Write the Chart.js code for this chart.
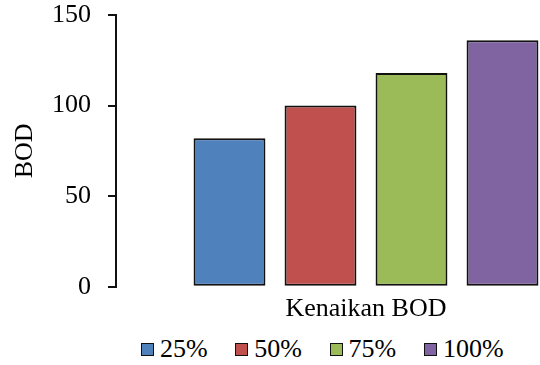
<!DOCTYPE html>
<html>
<head>
<meta charset="utf-8">
<script src="https://cdn.jsdelivr.net/npm/chart.js@4/dist/chart.umd.min.js"></script>
<style>
  html, body { margin: 0; padding: 0; background: #fff; }
  #wrap { position: relative; width: 540px; height: 365px; overflow: hidden; }
  #bodChart { position: absolute; left: 0; top: 0; }
  #legend {
    position: absolute; left: 141px; top: 334px;
    display: flex; align-items: center;
    font-family: "Liberation Serif", serif; font-size: 26px; color: #000;
    white-space: nowrap;
  }
  .item { display: flex; align-items: center; width: 94.3px; }
  .box { width: 11px; height: 11px; border: 1.5px solid #111; margin-right: 6px; }
</style>
</head>
<body>
<div id="wrap">
  <canvas id="bodChart" width="640" height="324"></canvas>
  <div id="legend"></div>
</div>
<script>
// Data kenaikan BOD
const categories = ['Kenaikan BOD'];
const seriesNames = ['25%', '50%', '75%', '100%'];
const seriesValues = [82, 100, 118, 136];
const seriesColors = ['#4F81BD', '#C0504D', '#9BBB59', '#8064A2'];
const yTicks = [0, 50, 100, 150];

const serif = "'Liberation Serif', serif";

const datasets = seriesNames.map((name, i) => ({
  label: name,
  data: [seriesValues[i]],
  backgroundColor: seriesColors[i],
  borderColor: '#111',
  borderWidth: 2,
  borderSkipped: false,
  categoryPercentage: 0.728,
  barPercentage: 0.79
}));

const ctx = document.getElementById('bodChart').getContext('2d');
new Chart(ctx, {
  type: 'bar',
  data: { labels: categories, datasets: datasets },
  options: {
    responsive: false,
    animation: false,
    layout: { padding: { top: 2, right: 24, bottom: 0, left: 0 } },
    plugins: {
      legend: { display: false },
      tooltip: { enabled: false }
    },
    scales: {
      x: {
        grid: { display: false },
        border: { display: false },
        ticks: { color: '#000', font: { family: serif, size: 26 }, padding: -1 }
      },
      y: {
        min: 0,
        max: 150,
        afterBuildTicks: (scale) => { scale.ticks = yTicks.map(v => ({ value: v })); },
        afterFit: (scale) => {
          scale.width = 116;
          scale.paddingTop = 15;
          scale.paddingBottom = 15;
        },
        grid: { drawOnChartArea: false, drawTicks: true, tickLength: 8, color: '#111', lineWidth: 2 },
        border: { display: true, color: '#111', width: 2 },
        ticks: { color: '#000', font: { family: serif, size: 26 }, padding: 17 },
        title: {
          display: true,
          text: 'BOD',
          color: '#000',
          font: { family: serif, size: 26 },
          padding: { top: 10, bottom: 0 }
        }
      }
    }
  }
});

// Legenda di bawah grafik
const legend = document.getElementById('legend');
seriesNames.forEach((name, i) => {
  const item = document.createElement('div');
  item.className = 'item';
  const box = document.createElement('div');
  box.className = 'box';
  box.style.background = seriesColors[i];
  const label = document.createElement('span');
  label.textContent = name;
  item.appendChild(box);
  item.appendChild(label);
  legend.appendChild(item);
});
</script>
</body>
</html>
